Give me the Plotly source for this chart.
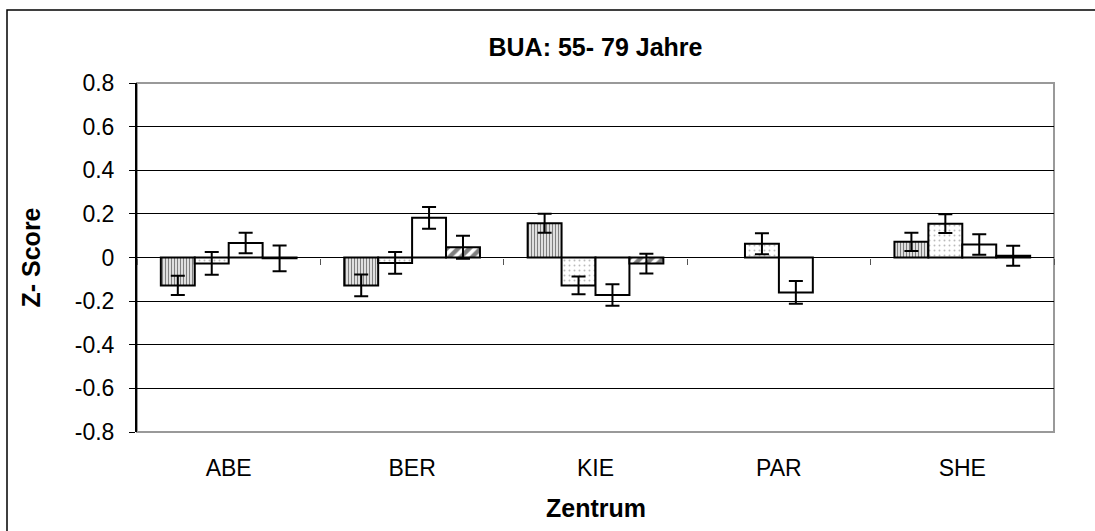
import plotly.graph_objects as go

categories = ["ABE", "BER", "KIE", "PAR", "SHE"]
series_names = ["Reihe 1", "Reihe 2", "Reihe 3", "Reihe 4"]

s1_vals = [-0.128, -0.128, 0.157, None, 0.072]
s1_err = [0.044, 0.050, 0.044, None, 0.042]
s2_vals = [-0.027, -0.025, -0.128, 0.063, 0.155]
s2_err = [0.052, 0.050, 0.041, 0.048, 0.043]
s3_vals = [0.066, 0.182, -0.172, -0.160, 0.060]
s3_err = [0.047, 0.050, 0.049, 0.052, 0.047]
s4_vals = [-0.004, 0.047, -0.028, None, 0.008]
s4_err = [0.059, 0.053, 0.045, None, 0.046]

y_tickvals = [-0.8, -0.6, -0.4, -0.2, 0, 0.2, 0.4, 0.6, 0.8]
y_ticktext = ["-0.8", "-0.6", "-0.4", "-0.2", "0", "0.2", "0.4", "0.6", "0.8"]

FONT = "Arial, Liberation Sans, sans-serif"

patterns = [
    dict(shape="|", fgcolor="black", bgcolor="white", size=3, solidity=0.5),
    dict(shape=".", fgcolor="#777777", bgcolor="white", size=5, solidity=0.12),
    dict(shape="", fgcolor="black", bgcolor="white"),
    dict(shape="/", fgcolor="black", bgcolor="white", size=8, solidity=0.55),
]

fig = go.Figure()
for name, vals, errs, pat in zip(series_names, [s1_vals, s2_vals, s3_vals, s4_vals],
                                 [s1_err, s2_err, s3_err, s4_err], patterns):
    fig.add_trace(go.Bar(
        x=categories, y=vals, name=name,
        marker=dict(color="white", line=dict(color="black", width=2), pattern=pat),
        error_y=dict(type="data", array=errs, symmetric=True, color="black", thickness=2, width=7),
    ))

# invisible trace on overlay axis that carries category boundary ticks on the zero line
fig.add_trace(go.Scatter(x=[0, 5], y=[0, 0], xaxis="x2", yaxis="y", mode="lines",
                         line=dict(width=0), hoverinfo="skip", showlegend=False))

fig.update_layout(
    width=1095, height=531,
    paper_bgcolor="white", plot_bgcolor="white",
    margin=dict(l=137, r=41, t=83, b=99),
    barmode="group", bargap=0.26, bargroupgap=0,
    showlegend=False,
    font=dict(family=FONT, color="black", size=23),
    title=dict(text="<b>BUA: 55- 79 Jahre</b>", x=0.5, xref="paper", y=1 - 47 / 531,
               yref="container", xanchor="center", yanchor="middle",
               font=dict(family=FONT, size=25, color="black")),
    xaxis=dict(type="category", showgrid=False, showline=False, ticks="",
               tickfont=dict(family=FONT, size=23), ticklabelstandoff=20, zeroline=False),
    xaxis2=dict(overlaying="x", anchor="free", position=0.5, range=[0, 5], showgrid=False,
                showline=False, zeroline=False, showticklabels=False, ticks="outside",
                tickvals=[0, 1, 2, 3, 4, 5], ticklen=6, tickcolor="#555555", tickwidth=1),
    yaxis=dict(range=[-0.8, 0.8], tickvals=y_tickvals, ticktext=y_ticktext,
               showgrid=True, gridcolor="black", gridwidth=1,
               zeroline=True, zerolinecolor="black", zerolinewidth=1,
               showline=True, linecolor="black", linewidth=2,
               ticks="outside", ticklen=6, tickcolor="black", tickwidth=1,
               tickfont=dict(family=FONT, size=23), ticklabelstandoff=10),
    shapes=[
        dict(type="rect", xref="paper", yref="paper", x0=0, x1=1, y0=0, y1=1,
             line=dict(color="#999999", width=2), layer="below"),
        dict(type="rect", xref="paper", yref="paper", x0=(7 - 137) / 917, x1=(1110 - 137) / 917,
             y0=(432 - 545) / 349, y1=(432 - 10) / 349, line=dict(color="black", width=1.5)),
    ],
    annotations=[
        dict(text="<b>Z- Score</b>", xref="paper", yref="paper", x=(30 - 137) / 917, y=0.5,
             textangle=-90, showarrow=False, xanchor="center", yanchor="middle",
             font=dict(family=FONT, size=25, color="black")),
        dict(text="<b>Zentrum</b>", xref="paper", yref="paper", x=0.5, y=(432 - 508) / 349,
             showarrow=False, xanchor="center", yanchor="middle",
             font=dict(family=FONT, size=25, color="black")),
    ],
)

fig.write_html("out.html", config={"displayModeBar": False},
               post_script="document.body.style.margin='0';")
